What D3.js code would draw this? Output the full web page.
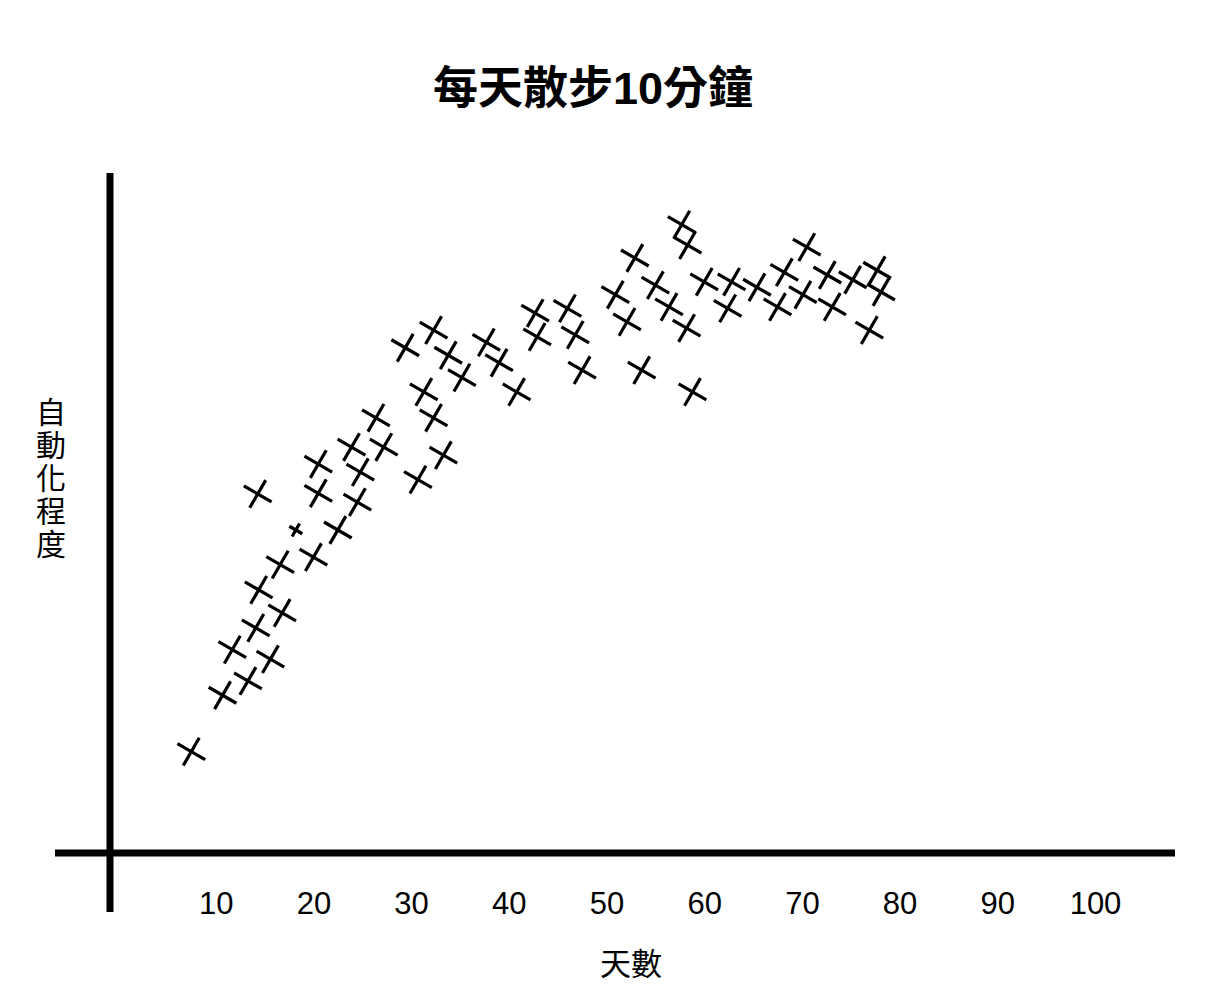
<!DOCTYPE html>
<html><head><meta charset="utf-8">
<script src="https://cdn.jsdelivr.net/npm/d3@7/dist/d3.min.js"></script>
<style>
html,body{margin:0;padding:0;background:#fff;}
svg{display:block;}
text{font-family:"Liberation Sans","Noto Sans CJK TC",sans-serif;fill:#000;}
</style></head><body>
<svg id="chart" width="1205" height="997"></svg>
<script>
const title = "每天散步10分鐘";
const xLabel = "天數";
const yLabel = "自動化程度";
const xTicks = [10, 20, 30, 40, 50, 60, 70, 80, 90, 100];

// days
const days = [7.5,10.7,13.3,15.6,11.7,14.1,16.8,14.4,16.6,20.0,22.5,14.3,20.5,24.5,20.5,24.8,23.9,27.2,26.4,30.7,
  33.3,32.3,31.3,29.4,32.3,33.8,35.2,37.7,39.0,40.8,42.7,42.9,46.0,46.8,47.5,50.9,52.1,52.9,53.6,55.0,
  56.4,58.2,57.7,58.3,58.8,60.0,62.8,62.4,65.4,68.2,67.5,70.5,70.1,72.6,73.1,75.2,77.7,78.1,76.9];
// automaticity
const automaticity = [14.9,23.2,25.3,28.5,29.9,33.1,35.3,38.7,42.4,43.5,47.5,52.8,52.9,51.6,57.2,56.0,59.7,59.7,64.0,54.9,
  58.5,64.0,67.8,74.3,76.9,73.2,69.9,75.1,72.1,67.8,79.4,75.9,80.1,76.2,71.0,82.1,78.1,87.5,71.0,83.5,
  80.3,77.2,92.4,89.4,67.8,84.0,84.0,80.1,83.2,85.4,80.3,89.1,82.1,85.0,80.3,84.3,85.7,82.5,76.9];
// a single small observation
const smallDays = [18.2];
const smallAutomaticity = [47.5];

const svg = d3.select("#chart");
const x = d3.scaleLinear().domain([0, 100]).range([118, 1095]);
const y = d3.scaleLinear().domain([0, 100]).range([853, 173]);

// title
svg.append("text").attr("x", 593).attr("y", 104).attr("text-anchor", "middle")
  .style("font-size", "45px").style("font-weight", "bold").text(title);

// axes lines
svg.append("line").attr("x1", 110).attr("x2", 110).attr("y1", y(100)).attr("y2", 912)
  .attr("stroke", "#000").attr("stroke-width", 7);
svg.append("line").attr("x1", 55).attr("x2", 1175).attr("y1", y(0)).attr("y2", y(0))
  .attr("stroke", "#000").attr("stroke-width", 7);

// x tick labels
const xAxis = d3.axisBottom(x).tickValues(xTicks).tickSize(0).tickPadding(0);
const gx = svg.append("g").attr("transform", `translate(0,${y(0) + 50})`).call(xAxis);
gx.select(".domain").remove();
gx.selectAll("text").attr("dy", "0.35em").style("font-size", "31px")
  .style("font-family", '"Liberation Sans",sans-serif');

// axis labels
svg.append("text").attr("x", 631).attr("y", 975).attr("text-anchor", "middle")
  .style("font-size", "31px").text(xLabel);
const yl = svg.append("text").attr("text-anchor", "middle").style("font-size", "30px");
yLabel.split("").forEach((ch, i) => {
  yl.append("tspan").attr("x", 51).attr("y", 423 + i * 33).text(ch);
});

// markers
function cross(g, r) {
  g.append("line").attr("x1", -r).attr("x2", r).attr("y1", 0).attr("y2", 0);
  g.append("line").attr("x1", 0).attr("x2", 0).attr("y1", -r).attr("y2", r);
}
const pts = days.map((d, i) => ({d, a: automaticity[i]}));
svg.append("g").selectAll("g").data(pts).join("g")
  .attr("transform", p => `translate(${x(p.d)},${y(p.a)}) rotate(30)`)
  .attr("stroke", "#000").attr("stroke-width", 3.2)
  .each(function() { cross(d3.select(this), 16); });
const spts = smallDays.map((d, i) => ({d, a: smallAutomaticity[i]}));
svg.append("g").selectAll("g").data(spts).join("g")
  .attr("transform", p => `translate(${x(p.d)},${y(p.a)}) rotate(30)`)
  .attr("stroke", "#000").attr("stroke-width", 3.2)
  .each(function() { cross(d3.select(this), 7.5); });
</script>
</body></html>
